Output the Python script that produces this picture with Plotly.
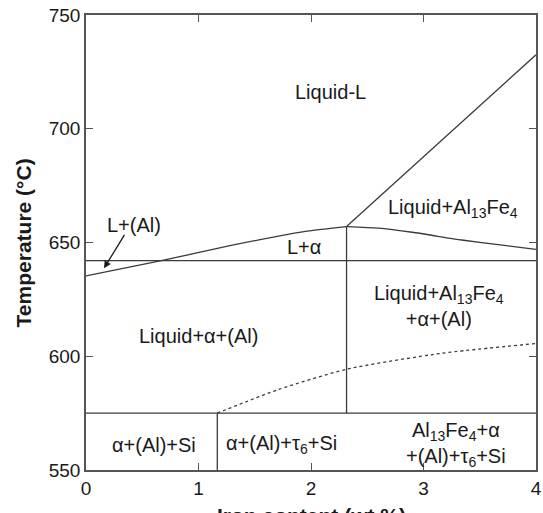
import plotly.graph_objects as go

# ---- data ----
liq_al_x = [0.0, 0.67, 1.3, 1.965, 2.316]
liq_al_t = [635.3, 642.0, 648.8, 655.0, 657.0]

liq_fe_x = [2.316, 4.0]
liq_fe_t = [657.0, 732.5]

l_al13_x = [2.316, 2.6, 2.9, 3.34, 3.7, 4.0]
l_al13_t = [657.0, 656.3, 654.5, 651.1, 648.8, 647.0]

eut_x = [0.0, 4.0]
eut_t = [642.0, 642.0]

low_x = [0.0, 4.0]
low_t = [575.0, 575.0]

vert1_x = [2.316, 2.316]
vert1_t = [575.0, 657.0]

vert2_x = [1.167, 1.167]
vert2_t = [550.0, 575.0]

dash_x = [1.167, 1.70, 2.316, 3.16, 4.0]
dash_t = [575.0, 585.2, 594.3, 601.3, 605.6]

x_ticks = [0, 1, 2, 3, 4]
y_ticks = [550, 600, 650, 700, 750]

labels = [
    ("Liquid-L", 2.17, 716.0),
    ("Liquid+Al<sub>13</sub>Fe<sub>4</sub>", 3.26, 665.0),
    ("L+α", 1.94, 648.0),
    ("Liquid+Al<sub>13</sub>Fe<sub>4</sub><br>+α+(Al)", 3.14, 622.0),
    ("Liquid+α+(Al)", 1.0, 609.0),
    ("α+(Al)+Si", 0.605, 561.0),
    ("α+(Al)+τ<sub>6</sub>+Si", 1.74, 561.0),
    ("Al<sub>13</sub>Fe<sub>4</sub>+α<br>+(Al)+τ<sub>6</sub>+Si", 3.29, 561.4),
]

LINE = "#3a3a3a"
FONT = "Liberation Sans, Arial, sans-serif"

fig = go.Figure()
for xs, ts, dash in [
    (liq_al_x, liq_al_t, "solid"),
    (liq_fe_x, liq_fe_t, "solid"),
    (l_al13_x, l_al13_t, "solid"),
    (eut_x, eut_t, "solid"),
    (low_x, low_t, "solid"),
    (vert1_x, vert1_t, "solid"),
    (vert2_x, vert2_t, "solid"),
    (dash_x, dash_t, "3px,3px"),
]:
    fig.add_trace(go.Scatter(
        x=xs, y=ts, mode="lines",
        line=dict(color=LINE, width=1.3, dash=dash, shape="spline", smoothing=0.6),
        showlegend=False, hoverinfo="skip"))

annotations = []
for text, x, t in labels:
    annotations.append(dict(
        x=x, y=t, xref="x", yref="y", text=text, showarrow=False,
        font=dict(family=FONT, size=20, color="#1a1a1a"), align="center"))

# arrow label L+(Al)
annotations.append(dict(
    x=0.16, y=638.7, xref="x", yref="y",
    ax=0.35, ay=654.0, axref="x", ayref="y",
    text="", showarrow=True, arrowhead=2, arrowsize=1.1, arrowwidth=1.3,
    arrowcolor="#1a1a1a"))
annotations.append(dict(
    x=0.43, y=657.6, xref="x", yref="y", text="L+(Al)", showarrow=False,
    font=dict(family=FONT, size=20, color="#1a1a1a")))

# axis titles
annotations.append(dict(
    x=0.5, y=-0.07, xref="paper", yref="paper", xanchor="center", yanchor="top",
    text="<b>Iron content (wt.%)</b>", showarrow=False,
    font=dict(family=FONT, size=21, color="#1a1a1a")))
annotations.append(dict(
    x=-0.138, y=0.5, xref="paper", yref="paper", xanchor="center", yanchor="middle",
    text="<b>Temperature (°C)</b>", showarrow=False, textangle=-90,
    font=dict(family=FONT, size=21, color="#1a1a1a")))

axis_common = dict(
    showline=True, linecolor="#555555", linewidth=1.5, mirror="ticks",
    ticks="inside", ticklen=7, tickwidth=1.3, tickcolor="#555555",
    showgrid=False, zeroline=False, ticklabeloverflow="allow",
    tickfont=dict(family=FONT, size=19, color="#1a1a1a"))

fig.update_layout(
    width=543, height=513,
    margin=dict(l=86, r=1, t=15, b=43),
    paper_bgcolor="white", plot_bgcolor="white",
    xaxis=dict(range=[0, 4], tickvals=x_ticks, ticktext=[str(v) for v in x_ticks], **axis_common),
    yaxis=dict(range=[550, 750], tickvals=y_ticks, ticktext=[str(v) for v in y_ticks], **axis_common),
    annotations=annotations,
)

fig.write_html("out.html")
